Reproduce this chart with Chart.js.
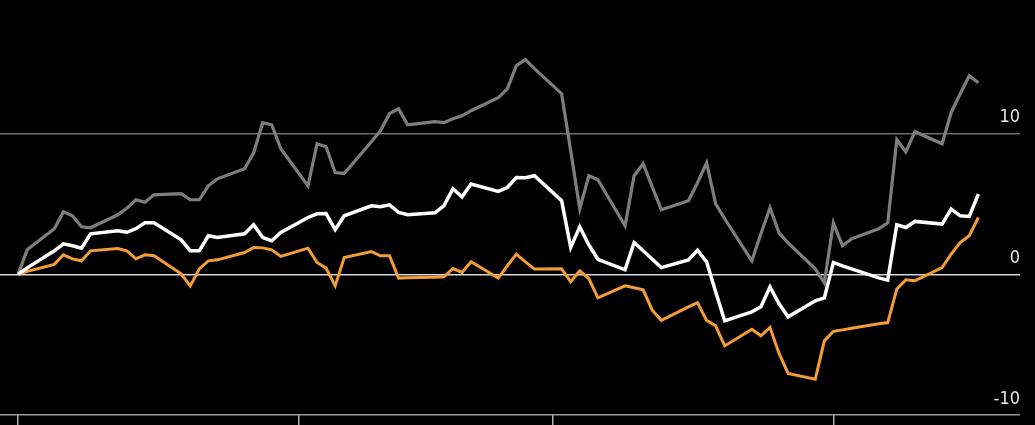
<!DOCTYPE html>
<html>
<head>
<meta charset="utf-8">
<script src="https://cdn.jsdelivr.net/npm/chart.js@4"></script>
<style>
  html, body { margin: 0; padding: 0; background: #000; overflow: hidden; }
  canvas { display: block; }
</style>
</head>
<body>
<canvas id="chart" width="1035" height="425"></canvas>
<script>
// trading days, counted from the first day of the year
const days = [0, 1, 4, 5, 6, 7, 8, 11, 12, 13, 14, 15, 18, 19, 20, 21, 22, 25, 26, 27, 28, 29,
  32, 33, 34, 35, 36, 39, 40, 41, 42, 43, 46, 47, 48, 49, 50, 53, 54, 55, 56, 57,
  60, 61, 62, 63, 64, 67, 68, 69, 70, 71, 74, 75, 76, 77, 78, 81, 82, 83, 84, 85,
  88, 89, 90, 91, 92, 95, 96, 97, 98, 99, 102, 103, 104, 105, 106];

const grayValues = [0, 1.74, 3.24, 4.45, 4.16, 3.38, 3.31, 4.23, 4.69, 5.30, 5.12, 5.65,
  5.73, 5.30, 5.30, 6.29, 6.79, 7.50, 8.64, 10.78, 10.63, 8.93,
  6.29, 9.28, 9.07, 7.24, 7.17, 9.42, 10.21, 11.42, 11.77, 10.63,
  10.85, 10.78, 11.06, 11.27, 11.63, 12.55, 13.19, 14.83, 15.26, 14.62,
  12.84, 8.78, 4.66, 7.01, 6.72, 3.45, 7.01, 7.86, 6.22, 4.59,
  5.23, 6.51, 7.93, 5.01, 3.95, 0.96, 2.88, 4.73, 2.95, 2.24,
  0.39, -0.60, 3.66, 2.03, 2.52, 3.24, 3.66, 9.57, 8.71, 10.14,
  9.28, 11.49, 12.84, 14.12, 13.62];

const whiteValues = [0, 0.46, 1.67, 2.17, 2.03, 1.85, 2.88, 3.09, 2.99, 3.24, 3.66, 3.66,
  2.45, 1.67, 1.67, 2.74, 2.62, 2.88, 3.52, 2.62, 2.38, 2.97,
  4.04, 4.30, 4.32, 3.17, 4.16, 4.87, 4.80, 4.94, 4.40, 4.23,
  4.37, 4.87, 6.08, 5.51, 6.42, 5.89, 6.17, 6.88, 6.86, 7.01,
  5.23, 1.91, 3.38, 2.10, 1.07, 0.32, 2.26, 1.67, 1.07, 0.48,
  1.03, 1.71, 0.89, -1.24, -3.31, -2.67, -2.31, -0.89, -2.10, -3.02,
  -1.88, -1.67, 0.84, 0.60, 0.39, -0.25, -0.41, 3.52, 3.33, 3.76,
  3.57, 4.64, 4.16, 4.11, 5.70];

const orangeValues = [0, 0.21, 0.71, 1.39, 1.10, 0.96, 1.67, 1.83, 1.67, 1.10, 1.39, 1.32,
  0.04, -0.82, 0.39, 0.96, 1.03, 1.55, 1.91, 1.88, 1.74, 1.27,
  1.86, 0.84, 0.44, -0.82, 1.19, 1.62, 1.32, 1.32, -0.27, -0.25,
  -0.21, -0.18, 0.41, 0.13, 0.89, -0.27, 0.60, 1.44, 0.89, 0.37,
  0.39, -0.53, 0.25, -0.30, -1.67, -0.82, -0.96, -1.10, -2.55, -3.27,
  -2.31, -2.01, -3.27, -3.66, -5.09, -3.91, -4.37, -3.78, -5.62, -7.04,
  -7.45, -4.73, -4.05, -3.95, -3.84, -3.52, -3.43, -1.05, -0.39, -0.46,
  0.48, 1.44, 2.26, 2.74, 4.04];

// month starts: Jan, Feb, Mar, Apr
const monthTicks = [0, 31, 59, 90];
const yTicks = [-10, 0, 10];

function toPoints(values) {
  return values.map((v, i) => ({ x: days[i], y: v }));
}

const ctx = document.getElementById('chart').getContext('2d');
new Chart(ctx, {
  type: 'line',
  data: {
    datasets: [
      { data: toPoints(whiteValues), borderColor: '#ffffff', borderWidth: 3.5 },
      { data: toPoints(orangeValues), borderColor: '#f29d35', borderWidth: 3 },
      { data: toPoints(grayValues), borderColor: '#7e7e7e', borderWidth: 3.2 }
    ]
  },
  options: {
    responsive: false,
    animation: false,
    layout: { padding: { left: 0, right: 15, top: 0, bottom: 0 } },
    elements: {
      point: { radius: 0 },
      line: { tension: 0, borderJoinStyle: 'miter', borderCapStyle: 'butt' }
    },
    plugins: { legend: { display: false }, tooltip: { enabled: false } },
    scales: {
      x: {
        type: 'linear',
        min: -2,
        max: 110.6,
        afterBuildTicks: scale => { scale.ticks = monthTicks.map(v => ({ value: v })); },
        border: { display: false },
        grid: { drawOnChartArea: false, drawTicks: true, tickLength: 10, color: '#b0b0b0', lineWidth: 1.5 },
        ticks: { display: false }
      },
      y: {
        position: 'right',
        min: -10,
        max: 19.5,
        afterBuildTicks: scale => { scale.ticks = yTicks.map(v => ({ value: v })); },
        afterFit: scale => { scale.paddingTop = 0; scale.paddingBottom = 0; },
        border: { display: false },
        grid: {
          drawTicks: false,
          color: c => c.tick.value === 0 ? '#d8d8d8' : (c.tick.value === -10 ? '#9a9a9a' : '#6e6e6e'),
          lineWidth: 1.5
        },
        ticks: {
          mirror: true,
          padding: 0,
          labelOffset: -16,
          color: '#e6e6e6',
          font: { family: '"Liberation Sans Narrow", "DejaVu Sans Condensed", sans-serif', size: 18 },
          callback: v => String(v)
        }
      }
    }
  }
});
</script>
</body>
</html>
